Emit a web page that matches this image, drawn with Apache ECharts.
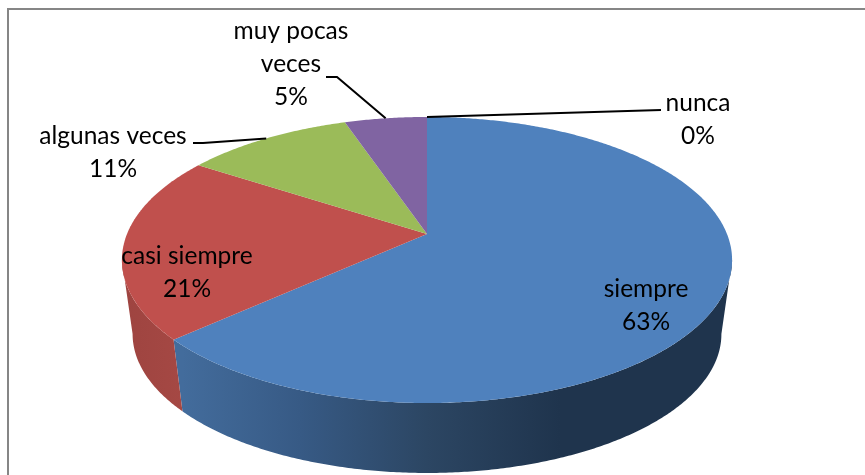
<!DOCTYPE html>
<html>
<head>
<meta charset="utf-8">
<style>html,body{margin:0;padding:0;background:#fff}#c{width:865px;height:475px}</style>
<script src="https://cdn.jsdelivr.net/npm/echarts@6/dist/echarts.min.js"></script>
</head>
<body>
<div id="c"></div>
<script>
var categories = ['siempre', 'casi siempre', 'algunas veces', 'muy pocas\nveces', 'nunca'];
var values = [63.3, 20.9, 10.6, 5.2, 0];

var topColors = ['#4F81BD', '#C0504D', '#9BBB59', '#8064A2', '#F79646'];
var sideStops = [
  [[182, '#436C9C'], [300, '#375A85'], [427, '#2C4663'], [560, '#1F344D'], [735, '#1F344D']],
  [[122, '#9E4440'], [182, '#A54844']]
];
// label centre (x, y of first line) and leader elbow points
var labelAt = [[646, 289], [187, 256], [113, 136], [291, 31], [698, 103]];
var leaderVia = [null, null, [[203, 143], [193, 143]], [[337, 77], [326, 77]], [[661, 110]]];

var K = 0.1818;
var TOP = { x0: 427, y0: 234, A: 138.3, B: 300 };
var BOT = { x0: 427, y0: 308.7, A: 134.4, B: 289.5 };
var VIS_A = 100.5, VIS_B = 259.5;
var total = values.reduce(function (a, b) { return a + b; }, 0);

function pt(g, deg) {
  var t = deg * Math.PI / 180, u = Math.sin(t), v = Math.cos(t), d = 1 + K * v;
  return [g.x0 + g.B * u / d, g.y0 - g.A * v / d];
}
function arc(g, a, b) {
  var out = [], n = Math.max(2, Math.ceil(Math.abs(b - a) * 2));
  for (var i = 0; i <= n; i++) out.push(pt(g, a + (b - a) * i / n));
  return out;
}
function hGrad(stops) {
  var x0 = stops[0][0], x1 = stops[stops.length - 1][0];
  return {
    type: 'linear', global: true, x: x0, y: 0, x2: x1, y2: 0,
    colorStops: stops.map(function (s) { return { offset: (s[0] - x0) / (x1 - x0), color: s[1] }; })
  };
}
function renderSlice(params, api) {
  var i = params.dataIndex, before = 0;
  for (var j = 0; j < i; j++) before += values[j];
  var a = before / total * 360, b = (before + api.value(0)) / total * 360;
  var children = [];
  var sa = Math.max(a, VIS_A), sb = Math.min(b, VIS_B);
  if (sb > sa) {
    children.push({
      type: 'polygon', z2: 1,
      shape: { points: arc(TOP, sa, sb).concat(arc(BOT, sb, sa)) },
      style: { fill: hGrad(sideStops[i] || sideStops[0]) }
    });
  }
  if (b > a) {
    children.push({
      type: 'polygon', z2: 2,
      shape: { points: [[TOP.x0, TOP.y0]].concat(arc(TOP, a, b)) },
      style: { fill: topColors[i] }
    });
  }
  if (leaderVia[i]) {
    var end = pt(TOP, (a + b) / 2);
    children.push({
      type: 'polyline', z2: 5,
      shape: { points: [end].concat(leaderVia[i]) },
      style: { stroke: '#000', lineWidth: 2, fill: null }
    });
  }
  var pct = Math.round(api.value(0) / total * 100) + '%';
  children.push({
    type: 'text', z2: 6,
    style: {
      text: categories[i] + '\n' + pct,
      x: labelAt[i][0], y: labelAt[i][1] - 16.5,
      align: 'center', verticalAlign: 'top',
      font: '24.5px Lato', lineHeight: 33, fill: '#000'
    }
  });
  return { type: 'group', children: children };
}

var chart = echarts.init(document.getElementById('c'), null, { renderer: 'canvas' });
chart.setOption({
  animation: false,
  backgroundColor: '#fff',
  graphic: [
    { type: 'polyline', z: 0, shape: { points: [[8, 475], [8, 9], [865, 9]] }, style: { stroke: '#868686', lineWidth: 2, fill: null } }
  ],
  series: [{
    type: 'custom',
    coordinateSystem: 'none',
    renderItem: renderSlice,
    data: values.map(function (v, i) { return { name: categories[i], value: [v] }; })
  }]
});
</script>
</body>
</html>
